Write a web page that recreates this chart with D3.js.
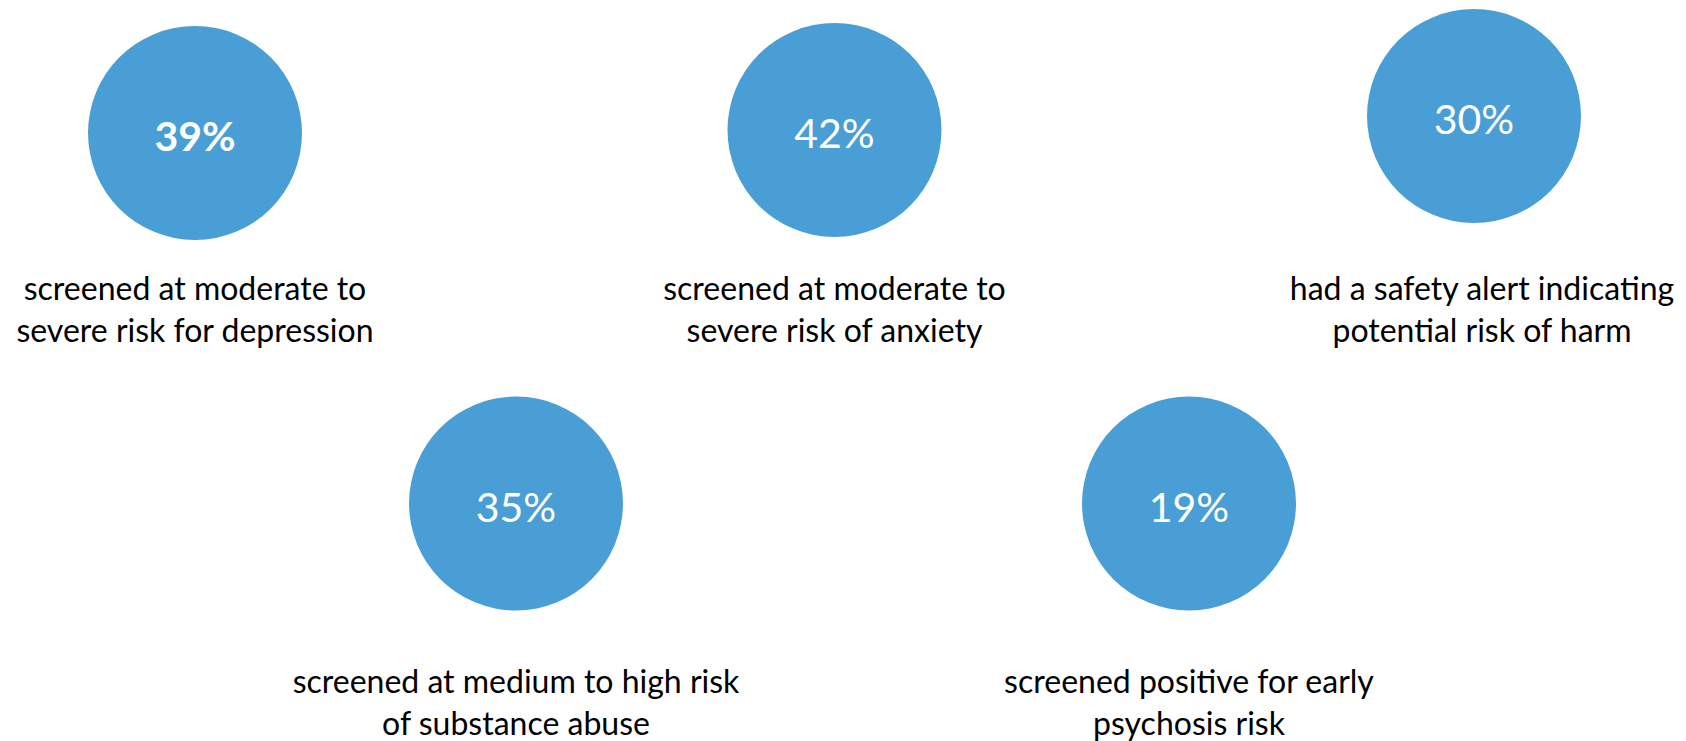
<!DOCTYPE html>
<html>
<head>
<meta charset="utf-8">
<title>Screening results</title>
<script src="https://d3js.org/d3.v7.min.js"></script>
<style>
body{margin:0;background:#fff;}
.chart text{font-family:Lato,"Open Sans",sans-serif;}
</style>
</head>
<body>
<svg class="chart"></svg>
<script>
// values, one per bubble
var values=[39,42,30,35,19];
var captions=[
  ["screened at moderate to","severe risk for depression"],
  ["screened at moderate to","severe risk of anxiety"],
  ["had a safety alert indicating","potential risk of harm"],
  ["screened at medium to high risk","of substance abuse"],
  ["screened positive for early","psychosis risk"]
];
var rowOf=[0,0,0,1,1];

var width=1686,height=741;
var radius=107;
var blue="#4A9ED6";

// small hand placement offsets from the original slide
var circleNudge=[3,0,-14,0,0];
var captionNudge=[0,0,8,0,0];

var chart=d3.select(".chart").attr("width",width).attr("height",height);

var xRow=[
  d3.scalePoint().domain([0,1,2]).range([195,1474]),
  d3.scalePoint().domain([3,4]).range([516,1189])
];
var yRow=d3.scaleLinear().domain([0,1]).range([130,503.5]);
var capY=d3.scaleLinear().domain([0,1]).range([300,693]);

var items=values.map(function(v,i){
  return {value:v,lines:captions[i],row:rowOf[i],i:i};
});

function cx(d){return xRow[d.row](d.i);}
function cy(d){return yRow(d.row)+circleNudge[d.i];}

var g=chart.selectAll("g.item").data(items).enter()
  .append("g").attr("class","item");

g.append("circle")
  .attr("cx",cx)
  .attr("cy",cy)
  .attr("r",radius)
  .attr("fill",blue);

g.append("text")
  .attr("x",cx)
  .attr("y",function(d){return cy(d)+18;})
  .attr("text-anchor","middle")
  .attr("font-size","41px")
  .attr("font-weight",function(d){return d.i==0?700:400;})
  .attr("fill","#fff")
  .text(function(d){return d.value+"%";});

var cap=g.append("text")
  .attr("text-anchor","middle")
  .attr("font-size","32px")
  .attr("fill","#000");

cap.selectAll("tspan").data(function(d){
    return d.lines.map(function(l,k){return {t:l,k:k,p:d};});
  }).enter()
  .append("tspan")
  .attr("x",function(d){return cx(d.p)+captionNudge[d.p.i];})
  .attr("y",function(d){return capY(d.p.row)+d.k*42;})
  .text(function(d){return d.t;});
</script>
</body>
</html>
